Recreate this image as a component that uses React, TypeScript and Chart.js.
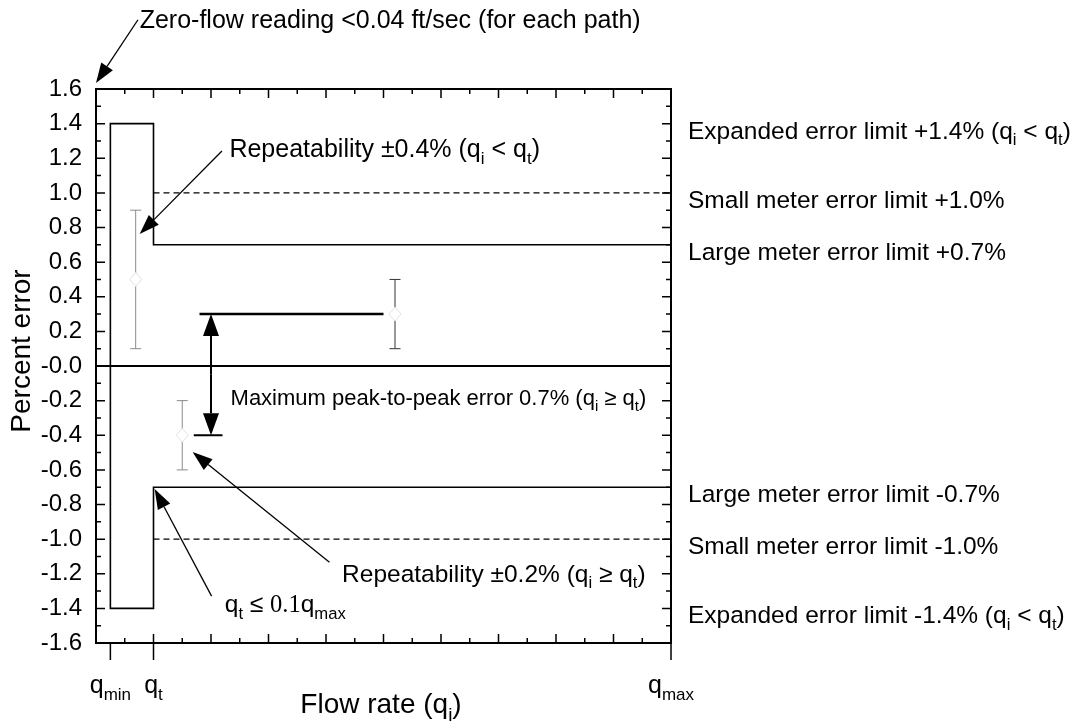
import React, { useEffect, useRef } from "react";
import { Chart, registerables } from "chart.js";

Chart.register(...registerables);

const SANS = '"Liberation Sans", Arial, Helvetica, sans-serif';
const SERIF = '"Liberation Serif", "Times New Roman", serif';

// ---- axis ranges and tick labels ----
const xMinMax = [0, 10];
const yMinMax = [-1.6, 1.6];
const yTickValues = [1.6, 1.4, 1.2, 1.0, 0.8, 0.6, 0.4, 0.2, 0, -0.2, -0.4, -0.6, -0.8, -1.0, -1.2, -1.4, -1.6];
const yTickLabels = ["1.6", "1.4", "1.2", "1.0", "0.8", "0.6", "0.4", "0.2", "-0.0", "-0.2", "-0.4", "-0.6", "-0.8", "-1.0", "-1.2", "-1.4", "-1.6"];
const xMajorTicks = [0, 1, 2, 3, 4, 5, 6, 7, 8, 9, 10];
const xMinorTicks = [0.5, 1.5, 2.5, 3.5, 4.5, 5.5, 6.5, 7.5, 8.5, 9.5];
const yMinorTicks = [1.5, 1.3, 1.1, 0.9, 0.7, 0.5, 0.3, 0.1, -0.1, -0.3, -0.5, -0.7, -0.9, -1.1, -1.3, -1.5];
const xLabelValues = [0.25, 1, 10];
const xLabelTexts = ["q_{min}", "q_{t}", "q_{max}"];

// ---- limit lines ----
const limitPathX = [10, 1, 1, 0.25, 0.25, 1, 1, 10];
const limitPathY = [0.7, 0.7, 1.4, 1.4, -1.4, -1.4, -0.7, -0.7];
const smallLimitX = [1, 10];
const smallUpperY = [1.0, 1.0];
const smallLowerY = [-1.0, -1.0];
const zeroLineX = [0, 10];
const zeroLineY = [0, 0];

// ---- peak-to-peak illustration ----
const peakHighX = [1.8, 5.0];
const peakHighY = [0.3, 0.3];
const peakLowX = [1.7, 2.2];
const peakLowY = [-0.4, -0.4];
const peakArrowX = 2.0;
const peakArrowY = [0.3, -0.4];

// ---- error bars ----
const errX = [0.69, 5.2, 1.5];
const errY = [0.5, 0.3, -0.4];
const errLow = [0.1, 0.1, -0.6];
const errHigh = [0.9, 0.5, -0.2];
const errColors = ["#8a8a8a", "#333333", "#8a8a8a"];

// ---- right-side limit labels ----
const limitLabelValues = [1.4, 1.0, 0.7, -0.7, -1.0, -1.4];
const limitLabelTexts = [
  "Expanded error limit +1.4% (q_{i} < q_{t})",
  "Small meter error limit +1.0%",
  "Large meter error limit +0.7%",
  "Large meter error limit -0.7%",
  "Small meter error limit -1.0%",
  "Expanded error limit -1.4% (q_{i} < q_{t})",
];

// ---- annotation arrows (data units) ----
const arrowFromX = [0.73, 2.19, 4.06, 2.01];
const arrowFromY = [2.0, 1.242, -1.133, -1.329];
const arrowToX = [0.0, 0.76, 1.68, 1.02];
const arrowToY = [1.635, 0.762, -0.497, -0.711];

// ---- annotation texts (data units anchor, left aligned at baseline) ----
const noteTexts = [
  "Zero-flow reading <0.04 ft/sec (for each path)",
  "Repeatability ±0.4% (q_{i} < q_{t})",
  "Maximum peak-to-peak error 0.7% (q_{i} ≥ q_{t})",
  "Repeatability ±0.2% (q_{i} ≥ q_{t})",
  "q_{t} ≤ ~{0.1}q_{max}",
];
const noteX = [0.76, 2.32, 2.34, 4.28, 2.24];
const noteY = [1.953, 1.21, -0.225, -1.245, -1.42];
const noteSizes = [25, 25, 22, 24.5, 24.5];

type Seg = { t: string; sub?: boolean; serif?: boolean };

function parseRich(s: string): Seg[] {
  const out: Seg[] = [];
  const re = /(_\{[^}]*\}|~\{[^}]*\})/g;
  let last = 0;
  let m: RegExpExecArray | null;
  while ((m = re.exec(s))) {
    if (m.index > last) out.push({ t: s.slice(last, m.index) });
    const inner = m[0].slice(2, -1);
    if (m[0][0] === "_") out.push({ t: inner, sub: true });
    else out.push({ t: inner, serif: true });
    last = m.index + m[0].length;
  }
  if (last < s.length) out.push({ t: s.slice(last) });
  return out;
}

function segFont(seg: Seg, size: number) {
  const sz = seg.sub ? size * 0.68 : size;
  return `${sz}px ${seg.serif ? SERIF : SANS}`;
}

function drawRich(ctx: CanvasRenderingContext2D, text: string, x: number, y: number, size: number, align: "left" | "center" = "left") {
  const segs = parseRich(text);
  ctx.save();
  ctx.textBaseline = "alphabetic";
  ctx.textAlign = "left";
  let total = 0;
  for (const s of segs) {
    ctx.font = segFont(s, size);
    total += ctx.measureText(s.t).width;
  }
  let cx = align === "center" ? x - total / 2 : x;
  for (const s of segs) {
    ctx.font = segFont(s, size);
    ctx.fillText(s.t, cx, s.sub ? y + size * 0.28 : y);
    cx += ctx.measureText(s.t).width;
  }
  ctx.restore();
}

function drawArrow(ctx: CanvasRenderingContext2D, x1: number, y1: number, x2: number, y2: number, head = 20, half = 7, lw = 1.3) {
  const ang = Math.atan2(y2 - y1, x2 - x1);
  const bx = x2 - head * Math.cos(ang);
  const by = y2 - head * Math.sin(ang);
  ctx.save();
  ctx.strokeStyle = "#000";
  ctx.fillStyle = "#000";
  ctx.lineWidth = lw;
  ctx.beginPath();
  ctx.moveTo(x1, y1);
  ctx.lineTo(bx, by);
  ctx.stroke();
  ctx.beginPath();
  ctx.moveTo(x2, y2);
  ctx.lineTo(bx + half * Math.sin(ang), by - half * Math.cos(ang));
  ctx.lineTo(bx - half * Math.sin(ang), by + half * Math.cos(ang));
  ctx.closePath();
  ctx.fill();
  ctx.restore();
}

function pts(xs: number[], ys: number[]) {
  return xs.map((x, i) => ({ x, y: ys[i] }));
}

const overlayPlugin = {
  id: "overlay",
  beforeDraw(chart: any) {
    const ctx = chart.ctx as CanvasRenderingContext2D;
    ctx.save();
    ctx.fillStyle = "#fff";
    ctx.fillRect(0, 0, chart.width, chart.height);
    ctx.restore();
  },
  afterDatasetsDraw(chart: any) {
    const ctx = chart.ctx as CanvasRenderingContext2D;
    const xs = chart.scales.x;
    const ys = chart.scales.y;
    const area = chart.chartArea;
    const px = (v: number) => xs.getPixelForValue(v);
    const py = (v: number) => ys.getPixelForValue(v);

    // error bars
    errX.forEach((xv, i) => {
      const x = px(xv);
      const yl = py(errLow[i]);
      const yh = py(errHigh[i]);
      const yc = py(errY[i]);
      ctx.save();
      ctx.strokeStyle = errColors[i];
      ctx.lineWidth = 1;
      ctx.beginPath();
      ctx.moveTo(x, yl);
      ctx.lineTo(x, yh);
      ctx.moveTo(x - 5.5, yl);
      ctx.lineTo(x + 5.5, yl);
      ctx.moveTo(x - 5.5, yh);
      ctx.lineTo(x + 5.5, yh);
      ctx.stroke();
      ctx.fillStyle = "#fff";
      ctx.strokeStyle = "#e2e2e2";
      ctx.beginPath();
      ctx.moveTo(x, yc - 7);
      ctx.lineTo(x + 6, yc);
      ctx.lineTo(x, yc + 7);
      ctx.lineTo(x - 6, yc);
      ctx.closePath();
      ctx.fill();
      ctx.stroke();
      ctx.restore();
    });

    // peak-to-peak double arrow
    {
      const x = px(peakArrowX);
      const y1 = py(peakArrowY[0]);
      const y2 = py(peakArrowY[1]);
      const mid = (y1 + y2) / 2;
      drawArrow(ctx, x, mid, x, y1, 22, 8, 2);
      drawArrow(ctx, x, mid, x, y2, 22, 8, 2);
    }

    // annotation arrows
    arrowFromX.forEach((_, i) => {
      drawArrow(ctx, px(arrowFromX[i]), py(arrowFromY[i]), px(arrowToX[i]), py(arrowToY[i]), 20, 7, 1.3);
    });

    // frame
    ctx.save();
    ctx.strokeStyle = "#000";
    ctx.lineWidth = 2;
    ctx.strokeRect(area.left, area.top, area.right - area.left, area.bottom - area.top);

    // ticks
    ctx.lineWidth = 1.5;
    ctx.beginPath();
    const tickX = (v: number, len: number) => {
      const x = px(v);
      ctx.moveTo(x, area.top);
      ctx.lineTo(x, area.top + len);
      ctx.moveTo(x, area.bottom);
      ctx.lineTo(x, area.bottom - len);
    };
    xMajorTicks.forEach((v) => tickX(v, 9));
    xMinorTicks.forEach((v) => tickX(v, 5));
    const tickY = (v: number, len: number) => {
      const y = py(v);
      ctx.moveTo(area.left, y);
      ctx.lineTo(area.left + len, y);
      ctx.moveTo(area.right, y);
      ctx.lineTo(area.right - len, y);
    };
    yTickValues.forEach((v) => tickY(v, 9));
    yMinorTicks.forEach((v) => tickY(v, 5));
    xLabelValues.forEach((v) => {
      const x = px(v);
      ctx.moveTo(x, area.bottom);
      ctx.lineTo(x, area.bottom + 17);
    });
    ctx.stroke();
    ctx.restore();

    // x tick labels
    ctx.fillStyle = "#000";
    xLabelValues.forEach((v, i) => drawRich(ctx, xLabelTexts[i], px(v), area.bottom + 50, 25, "center"));

    // axis titles
    drawRich(ctx, "Flow rate (q_{i})", 381, 713, 28, "center");
    ctx.save();
    ctx.translate(30, 351);
    ctx.rotate(-Math.PI / 2);
    drawRich(ctx, "Percent error", 0, 0, 28, "center");
    ctx.restore();

    // right-side labels
    limitLabelValues.forEach((v, i) => drawRich(ctx, limitLabelTexts[i], area.right + 17, py(v) + 15, 24.5));

    // notes
    noteTexts.forEach((t, i) => drawRich(ctx, t, px(noteX[i]), py(noteY[i]), noteSizes[i]));
  },
};

export default function App() {
  const ref = useRef<HTMLCanvasElement | null>(null);
  useEffect(() => {
    if (!ref.current) return;
    const line = (data: any[], width: number, dash: number[] = [], color = "#000") => ({
      data,
      showLine: true,
      borderColor: color,
      borderWidth: width,
      borderDash: dash,
      pointRadius: 0,
      fill: false,
      tension: 0,
    });
    const chart = new Chart(ref.current, {
      type: "scatter",
      data: {
        datasets: [
          line(pts(zeroLineX, zeroLineY), 2),
          line(pts(limitPathX, limitPathY), 1.6),
          line(pts(smallLimitX, smallUpperY), 1.3, [6, 4]),
          line(pts(smallLimitX, smallLowerY), 1.3, [6, 4]),
          line(pts(peakHighX, peakHighY), 2.6),
          line(pts(peakLowX, peakLowY), 2),
        ] as any,
      },
      options: {
        animation: false,
        responsive: true,
        maintainAspectRatio: false,
        events: [],
        layout: { padding: { left: 0, top: 89, right: 416, bottom: 81 } },
        plugins: { legend: { display: false }, tooltip: { enabled: false } },
        scales: {
          x: { type: "linear", min: xMinMax[0], max: xMinMax[1], display: false },
          y: {
            type: "linear",
            min: yMinMax[0],
            max: yMinMax[1],
            grid: { display: false, drawTicks: false },
            border: { display: false },
            afterBuildTicks: (scale: any) => {
              scale.ticks = yTickValues.map((v) => ({ value: v }));
            },
            afterFit: (scale: any) => {
              scale.width = 96;
            },
            ticks: {
              autoSkip: false,
              padding: 14,
              color: "#000",
              font: { family: SANS, size: 24 },
              callback: (v: any) => {
                const idx = yTickValues.findIndex((t) => Math.abs(t - Number(v)) < 1e-6);
                return idx >= 0 ? yTickLabels[idx] : "";
              },
            },
          },
        },
      },
      plugins: [overlayPlugin],
    });
    return () => chart.destroy();
  }, []);
  return (
    <div style={{ position: "fixed", left: 0, top: 0, width: 1087, height: 724, background: "#fff" }}>
      <canvas ref={ref} style={{ width: "100%", height: "100%" }} />
    </div>
  );
}
